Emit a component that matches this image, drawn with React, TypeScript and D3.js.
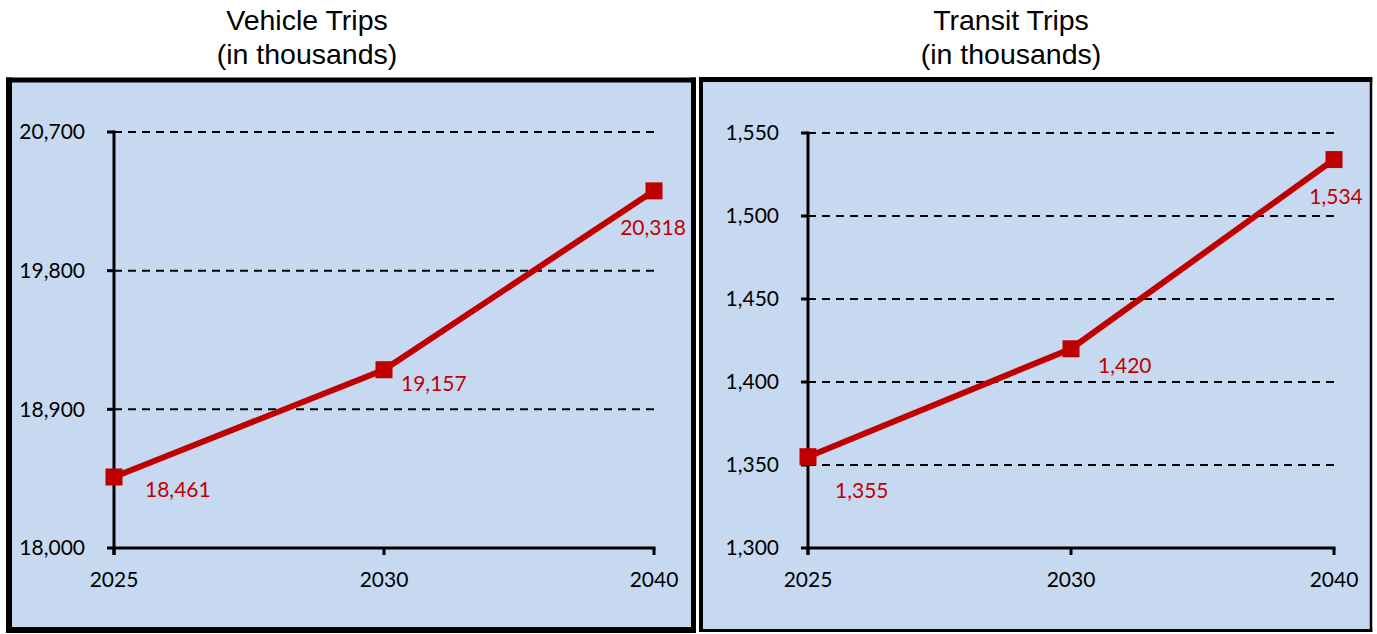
import React from "react";
import * as d3 from "d3";

const years = ["2025", "2030", "2040"];
const vehicleValues = [18461, 19157, 20318];
const vehicleTicks = [18000, 18900, 19800, 20700];
const transitValues = [1355, 1420, 1534];
const transitTicks = [1300, 1350, 1400, 1450, 1500, 1550];

const RED = "#C00000";
const BG = "#C6D9F1";
const FONT = "Lato, 'Open Sans', sans-serif";
const TITLE_FONT = "'Liberation Sans', Arial, sans-serif";
const FS = 21;

type PanelProps = {
  title: string[];
  values: number[];
  ticks: number[];
  box: { l: number; t: number; r: number; b: number; wl: number; wt: number; wr: number; wb: number };
  plot: { x0: number; x1: number; y0: number; y1: number };
  titleX: number;
  labelOffsets: [number, number, string][];
};

function Panel({ title, values, ticks, box, plot, titleX, labelOffsets }: PanelProps) {
  const x = d3.scalePoint<string>().domain(years).range([plot.x0, plot.x1]);
  const y = d3
    .scaleLinear()
    .domain([ticks[0], ticks[ticks.length - 1]])
    .range([plot.y1, plot.y0]);
  const line = d3
    .line<number>()
    .x((_, i) => x(years[i])!)
    .y((v) => y(v));
  const fmt = d3.format(",");
  const ms = 17;
  return (
    <g>
      <rect x={box.l} y={box.t} width={box.r - box.l} height={box.b - box.t} fill={BG} />
      <line x1={box.l} x2={box.l} y1={box.t - box.wt / 2} y2={box.b + box.wb / 2} stroke="#000" strokeWidth={box.wl} />
      <line x1={box.r} x2={box.r} y1={box.t - box.wt / 2} y2={box.b + box.wb / 2} stroke="#000" strokeWidth={box.wr} />
      <line x1={box.l - box.wl / 2} x2={box.r + box.wr / 2} y1={box.t} y2={box.t} stroke="#000" strokeWidth={box.wt} />
      <line x1={box.l - box.wl / 2} x2={box.r + box.wr / 2} y1={box.b} y2={box.b} stroke="#000" strokeWidth={box.wb} />
      {title.map((t, i) => (
        <text key={i} x={titleX} y={30 + i * 34} textAnchor="middle" fontFamily={TITLE_FONT} fontSize={28.5} fill="#000">
          {t}
        </text>
      ))}
      {ticks.slice(1).map((t) => (
        <line key={t} x1={plot.x0} x2={plot.x1} y1={y(t)} y2={y(t)} stroke="#000" strokeWidth={2} strokeDasharray="8 6" />
      ))}
      {ticks.map((t) => (
        <g key={t}>
          <line x1={plot.x0 - 7} x2={plot.x0} y1={y(t)} y2={y(t)} stroke="#000" strokeWidth={3} />
          <text x={plot.x0 - 29} y={y(t)} dy="0.35em" textAnchor="end" fontFamily={FONT} fontSize={FS} fill="#000">
            {fmt(t)}
          </text>
        </g>
      ))}
      <line x1={plot.x0} x2={plot.x0} y1={plot.y0 - 1.5} y2={plot.y1 + 7} stroke="#000" strokeWidth={3} />
      <line x1={plot.x0} x2={plot.x1 + 1.5} y1={plot.y1} y2={plot.y1} stroke="#000" strokeWidth={3} />
      {years.map((yr) => (
        <g key={yr}>
          <line x1={x(yr)} x2={x(yr)} y1={plot.y1} y2={plot.y1 + 7} stroke="#000" strokeWidth={3} />
          <text x={x(yr)} y={plot.y1 + 39} textAnchor="middle" fontFamily={FONT} fontSize={FS} fill="#000">
            {yr}
          </text>
        </g>
      ))}
      <path d={line(values)!} fill="none" stroke={RED} strokeWidth={6} />
      {values.map((v, i) => (
        <rect key={i} x={x(years[i])! - ms / 2} y={y(v) - ms / 2} width={ms} height={ms} fill={RED} />
      ))}
      {values.map((v, i) => (
        <text
          key={"l" + i}
          x={x(years[i])! + labelOffsets[i][0]}
          y={y(v) + labelOffsets[i][1]}
          dy="0.35em"
          textAnchor={labelOffsets[i][2] as any}
          fontFamily={FONT}
          fontSize={FS}
          fill={RED}
        >
          {fmt(v)}
        </text>
      ))}
    </g>
  );
}

export default function App() {
  return (
    <svg width={1377} height={634} style={{ position: "absolute", left: 0, top: 0 }}>
      <rect width={1377} height={634} fill="#fff" />
      <Panel
        title={["Vehicle Trips", "(in thousands)"]}
        values={vehicleValues}
        ticks={vehicleTicks}
        box={{ l: 9, t: 80, r: 693.5, b: 630, wl: 6, wt: 5, wr: 5, wb: 6 }}
        plot={{ x0: 114, x1: 654, y0: 132, y1: 548 }}
        titleX={307}
        labelOffsets={[
          [31, 13, "start"],
          [17, 14, "start"],
          [-1, 37, "middle"],
        ]}
      />
      <Panel
        title={["Transit Trips", "(in thousands)"]}
        values={transitValues}
        ticks={transitTicks}
        box={{ l: 701, t: 79.5, r: 1371, b: 630.5, wl: 4, wt: 5, wr: 2.5, wb: 3 }}
        plot={{ x0: 808, x1: 1334, y0: 133, y1: 548 }}
        titleX={1011}
        labelOffsets={[
          [27, 34, "start"],
          [27, 17, "start"],
          [2, 37, "middle"],
        ]}
      />
    </svg>
  );
}
